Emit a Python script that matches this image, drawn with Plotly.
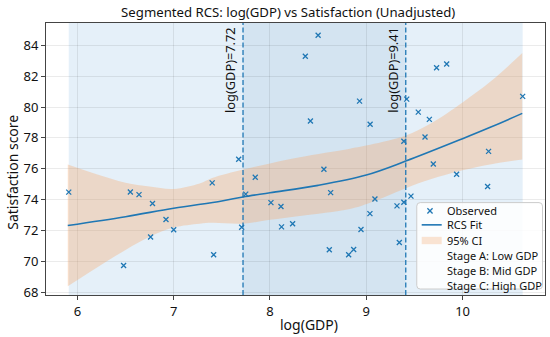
import plotly.graph_objects as go

log_gdp = [5.91, 6.48, 6.55, 6.64, 6.76, 6.78, 6.92, 7.00, 7.40, 7.415, 7.675, 7.706,
           7.748, 7.847, 8.01, 8.114, 8.12, 8.235, 8.367, 8.42, 8.50, 8.56, 8.616, 8.63,
           8.817, 8.869, 8.93, 8.945, 9.038, 9.04, 9.09, 9.319, 9.343, 9.39, 9.39, 9.42,
           9.464, 9.54, 9.61, 9.655, 9.696, 9.73, 9.835, 9.938, 10.26, 10.27, 10.624]
satisfaction = [74.49, 69.74, 74.50, 74.33, 71.58, 73.75, 72.72, 72.05, 75.09, 70.44, 76.62, 72.22,
                74.36, 75.45, 73.81, 73.56, 72.24, 72.44, 83.29, 79.09, 84.65, 75.97, 70.76, 74.46,
                70.44, 70.78, 80.38, 72.07, 73.10, 78.88, 74.05, 73.60, 71.23, 73.84, 77.78, 80.51,
                74.23, 79.67, 78.06, 79.20, 76.31, 82.54, 82.79, 75.65, 74.85, 77.13, 80.69]

# RCS fit line (read)
fit_x = [5.9, 6.5, 7.0, 7.5, 7.72, 8.0, 8.5, 9.0, 9.41, 10.0, 10.3, 10.62]
fit_y = [72.33, 72.9, 73.45, 73.92, 74.18, 74.45, 74.93, 75.6, 76.5, 77.95, 78.72, 79.59]

# 95% CI (read)
ci_x = [5.9, 6.2, 6.5, 6.75, 7.0, 7.27, 7.4, 7.72, 8.0, 8.31, 8.83, 9.04, 9.41, 9.66, 10.0, 10.3, 10.62]
ci_upper = [76.28, 75.65, 75.1, 74.85, 74.7, 75.05, 75.4, 75.95, 76.35, 76.75, 77.3, 77.55, 78.15, 78.9, 80.3, 81.7, 83.5]
ci_lower = [68.4, 69.6, 70.75, 71.6, 72.2, 72.45, 72.5, 72.45, 72.7, 72.95, 73.4, 73.8, 74.74, 75.3, 75.9, 76.3, 76.6]

# Stage cut points
cut_points = [7.72, 9.41]
stage_names = ["Stage A: Low GDP", "Stage B: Mid GDP", "Stage C: High GDP"]
legend_labels = ["Observed", "RCS Fit", "95% CI"] + stage_names

x_ticks = [6, 7, 8, 9, 10]
y_ticks = [68, 70, 72, 74, 76, 78, 80, 82, 84]

BLUE = "#1f77b4"
CI_FILL = "rgba(245,170,110,0.35)"
FONT = "Noto Sans"
TXT = "#111"

fig = go.Figure()

xmin, xmax = min(log_gdp), max(log_gdp)
edges = [xmin] + cut_points + [xmax]
stage_colors = ["rgba(160,200,235,0.28)", "rgba(130,175,215,0.34)", "rgba(160,200,235,0.28)"]
for i in range(3):
    fig.add_shape(type="rect", xref="x", yref="paper", x0=edges[i], x1=edges[i + 1],
                  y0=0, y1=1, fillcolor=stage_colors[i], line_width=0, layer="below")

# CI band first (underneath)
fig.add_trace(go.Scatter(x=ci_x, y=ci_lower, mode="lines", showlegend=False,
                         line=dict(width=0, color="rgba(0,0,0,0)", shape="spline"),
                         hoverinfo="skip"))
fig.add_trace(go.Scatter(x=ci_x, y=ci_upper, mode="lines", name="95% CI", fill="tonexty",
                         fillcolor=CI_FILL, showlegend=False,
                         line=dict(width=0, color="rgba(0,0,0,0)", shape="spline")))
fig.add_trace(go.Scatter(x=fit_x, y=fit_y, mode="lines", name="RCS Fit", showlegend=False,
                         line=dict(color=BLUE, width=1.6, shape="spline")))
fig.add_trace(go.Scatter(x=log_gdp, y=satisfaction, mode="markers", name="Observed",
                         showlegend=False,
                         marker=dict(symbol="x-thin-open", size=5, color=BLUE,
                                     line=dict(width=1.3, color=BLUE))))

for c in cut_points:
    fig.add_shape(type="line", xref="x", yref="paper", x0=c, x1=c, y0=0, y1=1,
                  line=dict(color=BLUE, width=1.3, dash="5px,2.5px"), layer="above")
    fig.add_annotation(x=c, y=1, xref="x", yref="paper", text=f"log(GDP)={c:.2f}",
                       textangle=-90, showarrow=False, xanchor="right", yanchor="top",
                       xshift=-2, yshift=-2, font=dict(family=FONT, size=12.8, color=TXT))

# ---- legend (drawn manually to match compact spacing) ----
lx0, lx1, ly0, ly1 = 0.743, 0.995, 0.022, 0.3397
rx, ry = 0.007, 0.013
legend_path = (f"M {lx0+rx},{ly0} L {lx1-rx},{ly0} Q {lx1},{ly0} {lx1},{ly0+ry} "
               f"L {lx1},{ly1-ry} Q {lx1},{ly1} {lx1-rx},{ly1} L {lx0+rx},{ly1} "
               f"Q {lx0},{ly1} {lx0},{ly1-ry} L {lx0},{ly0+ry} Q {lx0},{ly0} {lx0+rx},{ly0} Z")
fig.add_shape(type="path", xref="paper", yref="paper", path=legend_path,
              fillcolor="rgba(255,255,255,0.85)", line=dict(color="#cccccc", width=1), layer="above")
item_y = [0.3092, 0.2579, 0.2003, 0.1442, 0.0902, 0.0352]
gx0, gx1, gxc, tx = 0.7529, 0.7930, 0.7695, 0.7996
dx, dy = 0.0052, 0.0095
fig.add_shape(type="line", xref="paper", yref="paper", x0=gxc-dx, x1=gxc+dx,
              y0=item_y[0]-dy, y1=item_y[0]+dy, line=dict(color=BLUE, width=1.3), layer="above")
fig.add_shape(type="line", xref="paper", yref="paper", x0=gxc-dx, x1=gxc+dx,
              y0=item_y[0]+dy, y1=item_y[0]-dy, line=dict(color=BLUE, width=1.3), layer="above")
fig.add_shape(type="line", xref="paper", yref="paper", x0=gx0, x1=gx1,
              y0=item_y[1], y1=item_y[1], line=dict(color=BLUE, width=1.6), layer="above")
fig.add_shape(type="rect", xref="paper", yref="paper", x0=gx0, x1=gx1,
              y0=item_y[2]-0.0135, y1=item_y[2]+0.0135, fillcolor="rgba(245,170,110,0.3)",
              line_width=0, layer="above")
for lab, yy in zip(legend_labels, item_y):
    fig.add_annotation(x=tx, y=yy, xref="paper", yref="paper", text=lab, showarrow=False,
                       xanchor="left", yanchor="middle",
                       font=dict(family=FONT, size=11, color=TXT))

# axis titles (placed as in the reference)
fig.add_annotation(x=0.528, y=-0.109, xref="paper", yref="paper", text="log(GDP)",
                   showarrow=False, xanchor="center", yanchor="middle",
                   font=dict(family=FONT, size=14, color=TXT))
fig.add_annotation(x=-0.0675, y=0.4505, xref="paper", yref="paper", text="Satisfaction score",
                   showarrow=False, xanchor="center", yanchor="middle", textangle=-90,
                   font=dict(family=FONT, size=14, color=TXT))

axis_common = dict(showline=True, linecolor="#444", linewidth=1, mirror=True,
                   ticks="outside", ticklen=4, tickcolor="#444",
                   showgrid=True, gridcolor="rgba(0,0,0,0.08)", gridwidth=1,
                   zeroline=False, tickfont=dict(family=FONT, size=13, color=TXT))

fig.update_xaxes(range=[5.674, 10.856], tickvals=x_ticks, **axis_common)
fig.update_yaxes(range=[67.83, 85.44], tickvals=y_ticks, **axis_common)

fig.update_layout(
    width=550, height=337,
    margin=dict(l=46, r=5, t=23, b=42),
    paper_bgcolor="white", plot_bgcolor="white",
    title=dict(text="Segmented RCS: log(GDP) vs Satisfaction (Unadjusted)",
               x=0.524, xanchor="center", y=0.963, yanchor="middle",
               font=dict(family=FONT, size=13.2, color=TXT)),
    showlegend=False,
)

fig.write_html("out.html", config={"displayModeBar": False},
               post_script="document.body.style.margin='0';")
